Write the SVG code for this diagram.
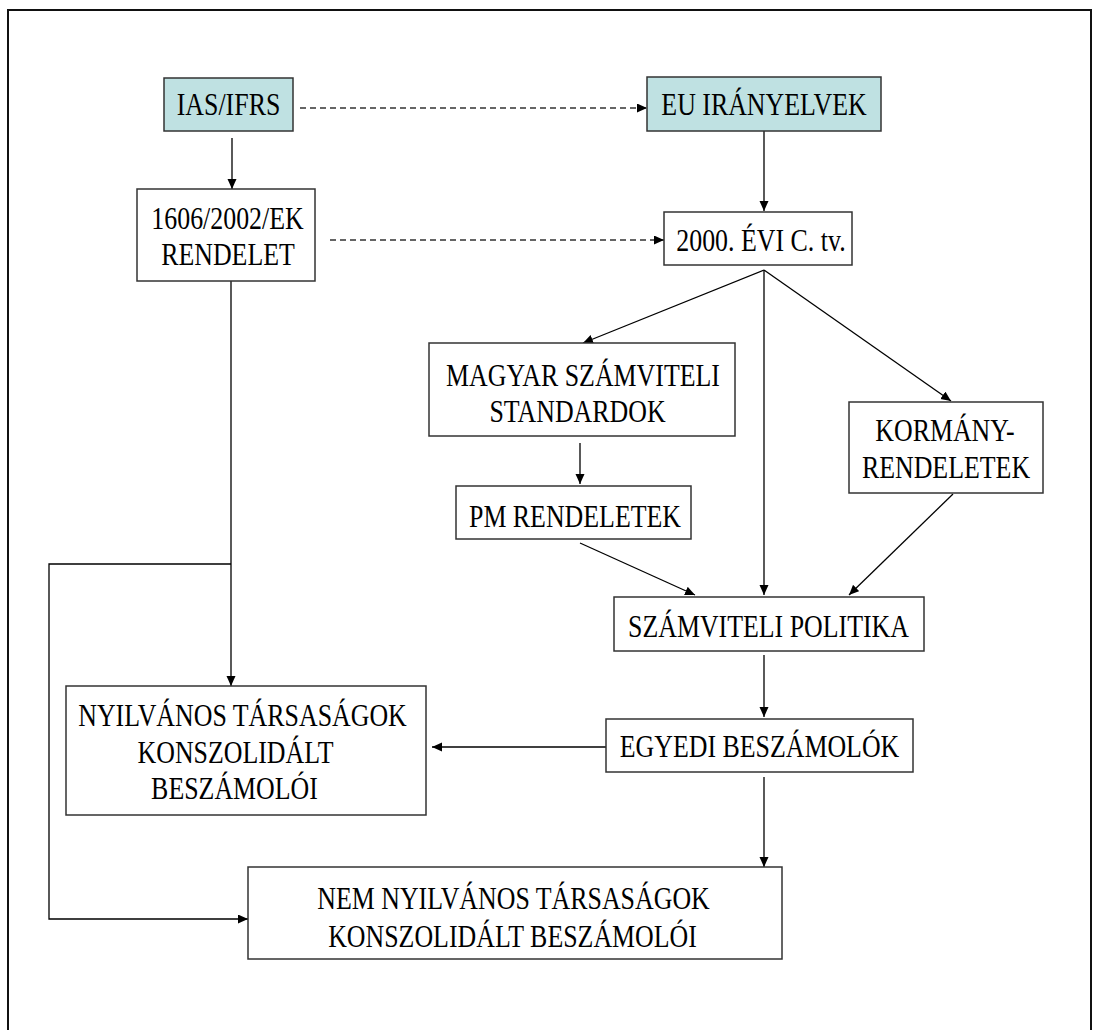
<svg xmlns="http://www.w3.org/2000/svg" width="1093" height="1030" viewBox="0 0 1093 1030">
<style>
.box{fill:#ffffff;stroke:#333333;stroke-width:1.5}
.teal{fill:#bfe1e2;stroke:#333333;stroke-width:1.5}
.t{font-family:"Liberation Serif","Times New Roman",serif;font-size:31px;fill:#000;text-anchor:middle}
.c{fill:none;stroke:#000;stroke-width:1.3}
.d{fill:none;stroke:#333;stroke-width:1.3;stroke-dasharray:6 4}
</style>
<defs>
<marker id="ah" markerUnits="userSpaceOnUse" markerWidth="11" markerHeight="10" refX="10" refY="4.5" orient="auto">
<path d="M0,0 L10,4.5 L0,9 z" fill="#000"/>
</marker>
</defs>
<rect x="0" y="0" width="1093" height="1030" fill="#ffffff"/>
<rect x="8" y="10" width="1083" height="1100" fill="none" stroke="#111" stroke-width="2"/>
<g id="connectors">
<line class="c" x1="232" y1="138" x2="232" y2="189" marker-end="url(#ah)"/>
<line class="d" x1="300" y1="108" x2="647" y2="108" marker-end="url(#ah)"/>
<line class="c" x1="764" y1="131" x2="764" y2="211" marker-end="url(#ah)"/>
<line class="d" x1="330" y1="240" x2="664" y2="240" marker-end="url(#ah)"/>
<line class="c" x1="764" y1="270" x2="583" y2="343" marker-end="url(#ah)"/>
<line class="c" x1="764" y1="270" x2="764" y2="595" marker-end="url(#ah)"/>
<line class="c" x1="764" y1="270" x2="951" y2="401" marker-end="url(#ah)"/>
<line class="c" x1="580" y1="443" x2="580" y2="484" marker-end="url(#ah)"/>
<line class="c" x1="580" y1="543" x2="695" y2="595" marker-end="url(#ah)"/>
<line class="c" x1="953" y1="494" x2="849" y2="595" marker-end="url(#ah)"/>
<line class="c" x1="764" y1="655" x2="764" y2="717" marker-end="url(#ah)"/>
<line class="c" x1="606" y1="747" x2="432" y2="747" marker-end="url(#ah)"/>
<line class="c" x1="764" y1="777" x2="764" y2="867" marker-end="url(#ah)"/>
<line class="c" x1="231" y1="281" x2="231" y2="686" marker-end="url(#ah)"/>
<polyline class="c" points="231,564 49,564 49,919 248,919" marker-end="url(#ah)"/>
</g>
<g id="ias">
<rect class="teal" x="164" y="78" width="129" height="53"/>
<text class="t" transform="translate(228.5 115) scale(0.835 1)">IAS/IFRS</text>
</g>
<g id="eu">
<rect class="teal" x="647" y="77" width="234" height="54"/>
<text class="t" transform="translate(764 115) scale(0.835 1)">EU IRÁNYELVEK</text>
</g>
<g id="rendelet1606">
<rect class="box" x="137" y="189" width="178" height="92"/>
<text class="t" transform="translate(227.5 229) scale(0.835 1)">1606/2002/EK</text>
<text class="t" transform="translate(228 265) scale(0.835 1)">RENDELET</text>
</g>
<g id="tv2000">
<rect class="box" x="664" y="212" width="188" height="53"/>
<text class="t" transform="translate(761 251) scale(0.835 1)">2000. ÉVI C. tv.</text>
</g>
<g id="mszs">
<rect class="box" x="429" y="343" width="306" height="93"/>
<text class="t" transform="translate(583 386) scale(0.835 1)">MAGYAR SZÁMVITELI</text>
<text class="t" transform="translate(577.5 422) scale(0.835 1)">STANDARDOK</text>
</g>
<g id="kormany">
<rect class="box" x="849" y="402" width="194" height="91"/>
<text class="t" transform="translate(945 441) scale(0.835 1)">KORMÁNY-</text>
<text class="t" transform="translate(946 478) scale(0.835 1)">RENDELETEK</text>
</g>
<g id="pm">
<rect class="box" x="456" y="486" width="235" height="53"/>
<text class="t" transform="translate(575 527) scale(0.835 1)">PM RENDELETEK</text>
</g>
<g id="szp">
<rect class="box" x="614" y="597" width="310" height="54"/>
<text class="t" transform="translate(768.5 637) scale(0.835 1)">SZÁMVITELI POLITIKA</text>
</g>
<g id="egyedi">
<rect class="box" x="606" y="719" width="307" height="53"/>
<text class="t" transform="translate(759.5 757) scale(0.835 1)">EGYEDI BESZÁMOLÓK</text>
</g>
<g id="nyilvanos">
<rect class="box" x="66" y="686" width="360" height="129"/>
<text class="t" transform="translate(242.5 726) scale(0.835 1)">NYILVÁNOS TÁRSASÁGOK</text>
<text class="t" transform="translate(235.5 763) scale(0.835 1)">KONSZOLIDÁLT</text>
<text class="t" transform="translate(234.5 799) scale(0.835 1)">BESZÁMOLÓI</text>
</g>
<g id="nem">
<rect class="box" x="248" y="867" width="534" height="92"/>
<text class="t" transform="translate(513.5 909) scale(0.835 1)">NEM NYILVÁNOS TÁRSASÁGOK</text>
<text class="t" transform="translate(512.5 947) scale(0.835 1)">KONSZOLIDÁLT BESZÁMOLÓI</text>
</g>
</svg>
